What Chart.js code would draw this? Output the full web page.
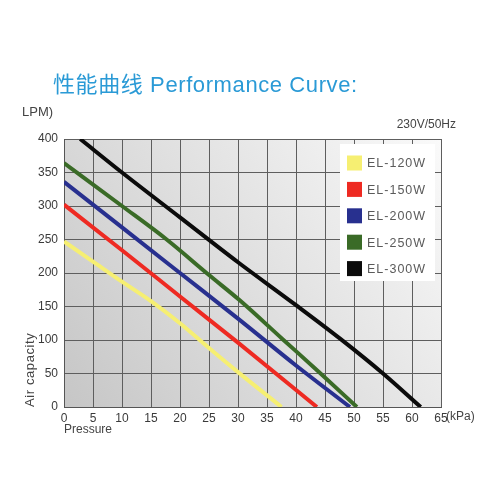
<!DOCTYPE html>
<html>
<head>
<meta charset="utf-8">
<script src="https://cdn.jsdelivr.net/npm/chart.js@4.4.0/dist/chart.umd.min.js"></script>
<style>
html, body { margin: 0; padding: 0; background: #fff; }
#wrap { width: 500px; height: 500px; position: relative; }
</style>
</head>
<body>
<div id="wrap"><canvas id="chartCurva"></canvas></div>
<script>
// Performance curve data
const modelNames = ['EL-120W', 'EL-150W', 'EL-200W', 'EL-250W', 'EL-300W'];
const modelColors = ['#f6ef72', '#ee2a22', '#28308f', '#3a6b27', '#0b0b0b'];

const pressure120 = [0, 5, 10, 15, 20, 25, 30, 37.5];
const flow120     = [247, 217, 187, 158, 125, 88, 52, 0];
const pressure150 = [0, 10, 20, 30, 43.6];
const flow150     = [302, 234, 165, 96, 0];
const pressure200 = [0, 10, 20, 30, 40, 49.3];
const flow200     = [336, 268, 200, 132, 62, 0];
const pressure250 = [0, 10, 17.7, 25, 30.2, 37.6, 44, 50.5];
const flow250     = [364, 300, 250, 197, 160, 102, 52, 0];
const pressure300 = [2.8, 10, 20, 30, 40, 47.6, 55, 61.5];
const flow300     = [400, 350, 283, 216, 152, 102, 50, 0];

const pressureTicks = [0, 5, 10, 15, 20, 25, 30, 35, 40, 45, 50, 55, 60, 65];
const flowTicks = [0, 50, 100, 150, 200, 250, 300, 350, 400];

const FONT = '"Liberation Sans", Arial, "Noto Sans CJK SC", sans-serif';

const curves = [
    [pressure120, flow120],
    [pressure150, flow150],
    [pressure200, flow200],
    [pressure250, flow250],
    [pressure300, flow300]
];

const datasets = curves.map(([px, fy], i) => ({
    label: modelNames[i],
    data: px.map((p, k) => ({ x: p, y: fy[k] })),
    borderColor: modelColors[i],
    backgroundColor: modelColors[i],
    borderWidth: 4,
    pointRadius: 0,
    cubicInterpolationMode: 'monotone',
    fill: false
}));

// fondo degradado del área del gráfico
const plotBackground = {
    id: 'plotBackground',
    beforeDraw(chart) {
        const { ctx, chartArea: a } = chart;
        const g = ctx.createLinearGradient(a.right, a.top, a.left, a.bottom);
        g.addColorStop(0, '#fafafa');
        g.addColorStop(1, '#c6c6c6');
        ctx.save();
        ctx.fillStyle = g;
        ctx.fillRect(a.left, a.top, a.right - a.left, a.bottom - a.top);
        ctx.restore();
    }
};

// leyenda dentro del área
const boxLegend = {
    id: 'boxLegend',
    afterDatasetsDraw(chart) {
        const { ctx, chartArea: a } = chart;
        const w = 95, h = 137;
        const x0 = a.right - 6 - w, y0 = a.top + 5;
        ctx.save();
        ctx.fillStyle = '#ffffff';
        ctx.fillRect(x0, y0, w, h);
        ctx.font = '12.5px ' + FONT;
        ctx.textBaseline = 'middle';
        ctx.textAlign = 'left';
        if ('letterSpacing' in ctx) ctx.letterSpacing = '1px';
        chart.data.datasets.forEach((ds, i) => {
            const cy = y0 + 19 + i * 26.4;
            ctx.fillStyle = ds.borderColor;
            ctx.fillRect(x0 + 7, cy - 7.5, 15, 15);
            ctx.fillStyle = '#5a5a5a';
            ctx.fillText(ds.label, x0 + 27, cy + 1);
        });
        ctx.restore();
    }
};

// textos sueltos (título, unidades)
const extraTexts = {
    id: 'extraTexts',
    afterDraw(chart) {
        const { ctx, chartArea: a } = chart;
        ctx.save();
        ctx.textBaseline = 'middle';
        ctx.textAlign = 'left';
        ctx.fillStyle = '#2a9ad6';
        ctx.font = '22px ' + FONT;
        if ('letterSpacing' in ctx) ctx.letterSpacing = '0.6px';
        ctx.fillText('性能曲线 Performance Curve:', 53, 86);
        if ('letterSpacing' in ctx) ctx.letterSpacing = '0px';

        ctx.fillStyle = '#444';
        ctx.font = '13px ' + FONT;
        ctx.fillText('LPM)', 22, 112);
        ctx.font = '12px ' + FONT;
        ctx.fillText('(kPa)', a.right + 5, a.bottom + 10);
        ctx.fillText('Pressure', a.left, a.bottom + 23);
        ctx.textAlign = 'right';
        ctx.fillText('230V/50Hz', 456, 125);

        ctx.translate(30, a.bottom);
        ctx.rotate(-Math.PI / 2);
        ctx.textAlign = 'left';
        ctx.font = '13px ' + FONT;
        if ('letterSpacing' in ctx) ctx.letterSpacing = '0.6px';
        ctx.fillText('Air capacity', 0, 0);
        ctx.restore();
    }
};

const ctxCurva = document.getElementById('chartCurva');
new Chart(ctxCurva, {
    type: 'line',
    data: { datasets: datasets },
    options: {
        responsive: true,
        maintainAspectRatio: false,
        animation: false,
        layout: { padding: { top: 139, left: 20, right: 59, bottom: 0 } },
        plugins: {
            legend: { display: false },
            title: { display: false },
            tooltip: { enabled: false }
        },
        scales: {
            x: {
                type: 'linear',
                min: pressureTicks[0],
                max: pressureTicks[pressureTicks.length - 1],
                afterBuildTicks: (s) => { s.ticks = pressureTicks.map(v => ({ value: v })); },
                afterFit: (s) => { s.height = 93; },
                grid: { color: '#5e5e5e', lineWidth: 1, drawTicks: false },
                border: { color: '#555', width: 1 },
                ticks: { color: '#3a3a3a', padding: 4, font: { family: FONT, size: 12 }, maxRotation: 0 }
            },
            y: {
                type: 'linear',
                min: flowTicks[0],
                max: flowTicks[flowTicks.length - 1],
                afterBuildTicks: (s) => { s.ticks = flowTicks.map(v => ({ value: v })); },
                afterFit: (s) => { s.width = 44; },
                grid: { color: '#5e5e5e', lineWidth: 1, drawTicks: false },
                border: { color: '#555', width: 1 },
                ticks: { color: '#3a3a3a', padding: 6, font: { family: FONT, size: 12 } }
            }
        }
    },
    plugins: [plotBackground, boxLegend, extraTexts]
});
</script>
</body>
</html>
